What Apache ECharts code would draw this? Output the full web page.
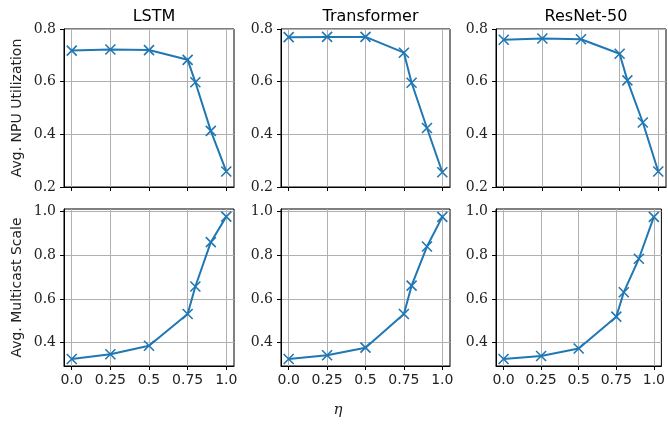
<!DOCTYPE html>
<html>
<head>
<meta charset="utf-8">
<script src="https://cdn.jsdelivr.net/npm/echarts/dist/echarts.min.js"></script>
<style>
  html, body { margin: 0; padding: 0; background: #fff; }
  #chart { width: 668px; height: 428px; }
</style>
</head>
<body>
<div id="chart"></div>
<script>
// eta values on the x axis
const eta = [0, 0.25, 0.5, 0.75, 0.8, 0.9, 1.0];
const models = ['LSTM', 'Transformer', 'ResNet-50'];

// Avg. NPU Utilization (top row)
const npuLstm = [0.718, 0.722, 0.720, 0.683, 0.598, 0.413, 0.259];
const npuTransformer = [0.769, 0.770, 0.770, 0.710, 0.596, 0.424, 0.256];
const npuResnet = [0.759, 0.764, 0.761, 0.706, 0.605, 0.445, 0.259];

// Avg. Multicast Scale (bottom row)
const mcLstm = [0.325, 0.347, 0.386, 0.531, 0.657, 0.860, 0.977];
const mcTransformer = [0.325, 0.342, 0.377, 0.531, 0.661, 0.840, 0.976];
const mcResnet = [0.325, 0.339, 0.373, 0.519, 0.631, 0.784, 0.976];

const xTicks = [0, 0.25, 0.5, 0.75, 1.0];
const npuTicks = [0.2, 0.4, 0.6, 0.8];
const mcTicks = [0.4, 0.6, 0.8, 1.0];

const rows = [
  { label: 'Avg. NPU Utilization', data: [npuLstm, npuTransformer, npuResnet], ticks: npuTicks, min: 0.2, max: 0.8 },
  { label: 'Avg. Multicast Scale', data: [mcLstm, mcTransformer, mcResnet], ticks: mcTicks, min: 0.293, max: 1.012 }
]

const colLeft = [64, 281, 496]
const colWidth = [170, 169, 170]
const rowTop = [29, 209]
const rowHeight = [158, 157]
const blue = '#1f77b4'
const gridColor = '#b0b0b0'

let grids = [], xAxes = [], yAxes = [], series = [], titles = [], graphics = []

rows.forEach(function(row, r) {
  models.forEach(function(m, c) {
    let idx = grids.length
    grids.push({
      left: colLeft[c], top: rowTop[r], width: colWidth[c], height: rowHeight[r],
      show: true, borderColor: '#000', borderWidth: 1, backgroundColor: 'transparent'
    })
    xAxes.push({
      type: 'value', gridIndex: idx, min: -0.05, max: 1.05,
      axisLine: { show: true, onZero: false, lineStyle: { color: '#000', width: 1 } },
      axisTick: { show: true, length: 4, customValues: xTicks, lineStyle: { color: '#000' } },
      axisLabel: {
        show: r === 1, customValues: xTicks, margin: 7,
        fontFamily: 'DejaVu Sans', fontSize: 14, color: '#222',
        formatter: function(v) { return (v === 0 || v === 1) ? v.toFixed(1) : String(v) }
      },
      splitLine: { show: true, lineStyle: { color: gridColor, width: 1 } }
    })
    yAxes.push({
      type: 'value', gridIndex: idx, min: row.min, max: row.max,
      axisLine: { show: true, onZero: false, lineStyle: { color: '#000', width: 1 } },
      axisTick: { show: true, length: 4, customValues: row.ticks, lineStyle: { color: '#000' } },
      axisLabel: {
        customValues: row.ticks, margin: 8,
        fontFamily: 'DejaVu Serif', fontSize: 14, color: '#222',
        formatter: function(v) { return v.toFixed(1) }
      },
      splitLine: { show: true, lineStyle: { color: gridColor, width: 1 } }
    })
    series.push({
      type: 'line', xAxisIndex: idx, yAxisIndex: idx,
      data: eta.map(function(x, i) { return [x, row.data[c][i]] }),
      lineStyle: { color: blue, width: 2 },
      symbol: 'path://M0,0L10,10M10,0L0,10',
      symbolSize: 10,
      itemStyle: { color: blue, borderColor: blue, borderWidth: 1.6 },
      animation: false
    })
    if (r === 0) {
      titles.push({
        text: m, left: colLeft[c] + colWidth[c] / 2, top: 4, textAlign: 'center',
        textStyle: { fontFamily: 'DejaVu Sans', fontSize: 16, fontWeight: 'normal', color: '#000' }
      })
    }
  })
  graphics.push({
    type: 'text', x: 17, y: rowTop[r] + rowHeight[r] / 2, rotation: Math.PI / 2,
    style: { text: row.label, textAlign: 'center', textVerticalAlign: 'middle',
      fontFamily: 'DejaVu Sans', fontSize: 14, fill: '#222' }
  })
})

graphics.push({
  type: 'text', x: 338, y: 410,
  style: { text: 'η', textAlign: 'center', textVerticalAlign: 'middle',
    fontFamily: 'DejaVu Serif', fontStyle: 'italic', fontSize: 15, fill: '#222' }
})

let chart = echarts.init(document.getElementById('chart'))
chart.setOption({
  animation: false,
  title: titles,
  grid: grids,
  xAxis: xAxes,
  yAxis: yAxes,
  series: series,
  graphic: graphics
})
</script>
</body>
</html>
